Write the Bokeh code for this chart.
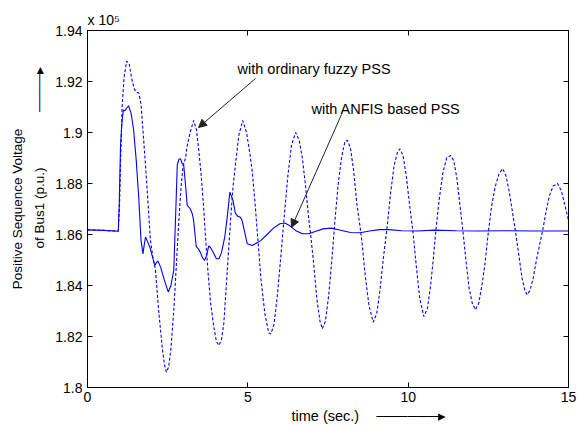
import math
from bokeh.plotting import figure
from bokeh.models import (Range1d, FixedTicker, CustomJSTickFormatter, LinearAxis,
                          Label, Arrow, NormalHead, Title)
from bokeh.embed import file_html
from bokeh.resources import INLINE

# ---- data (values in units of 10^5) ----
time_anfis = [0.0, 0.5, 0.96, 0.99, 1.03, 1.08, 1.12, 1.17, 1.22, 1.28, 1.36, 1.44, 1.52,
              1.6, 1.67, 1.73, 1.77, 1.81, 1.88, 1.96, 2.03, 2.1, 2.15, 2.2, 2.28, 2.4,
              2.52, 2.6, 2.69, 2.75, 2.8, 2.85, 2.9, 2.95, 3.0, 3.06, 3.11, 3.21, 3.27,
              3.31, 3.39, 3.45, 3.52, 3.58, 3.65, 3.72, 3.78, 3.84, 3.92, 4.02, 4.1, 4.18,
              4.28, 4.36, 4.44, 4.54, 4.61, 4.68, 4.77, 4.82, 4.9, 4.98, 5.14, 5.4, 5.6,
              5.8, 6.0, 6.15, 6.3, 6.5, 6.7, 6.9, 7.1, 7.35, 7.6, 7.9, 8.2, 8.5, 8.8,
              9.1, 9.4, 9.8, 10.3, 10.8, 11.5, 12.2, 13.0, 14.0, 15.0]
volt_anfis = [1.8618, 1.8616, 1.8613, 1.872, 1.895, 1.905, 1.9088, 1.9085, 1.9095, 1.9105,
              1.9075, 1.9008, 1.889, 1.874, 1.8576, 1.8524, 1.856, 1.859, 1.857, 1.8544,
              1.851, 1.8478, 1.849, 1.8495, 1.8472, 1.842, 1.8374, 1.840, 1.8459, 1.868,
              1.8873, 1.8895, 1.8897, 1.888, 1.8873, 1.879, 1.8714, 1.870, 1.868, 1.8655,
              1.8553, 1.8545, 1.853, 1.851, 1.8498, 1.852, 1.8555, 1.8548, 1.853, 1.8505,
              1.8505, 1.853, 1.859, 1.867, 1.8766, 1.8733, 1.8684, 1.8672, 1.8668, 1.8655,
              1.861, 1.8564, 1.8557, 1.8576, 1.860, 1.8625, 1.8642, 1.8645, 1.8635,
              1.8615, 1.8603, 1.8603, 1.8612, 1.8622, 1.8625, 1.8617, 1.8608, 1.8607,
              1.8614, 1.8619, 1.8619, 1.8615, 1.8614, 1.8617, 1.8615, 1.8614, 1.8615,
              1.8614, 1.8614]

time_fuzzy = [0.0, 0.5, 0.96, 1.0, 1.03, 1.08, 1.14, 1.22, 1.3, 1.38, 1.46, 1.53, 1.6, 1.67,
              1.74, 1.81, 1.9, 1.96, 2.04, 2.12, 2.22, 2.33, 2.4, 2.46, 2.53, 2.6, 2.69,
              2.77, 2.85, 2.92, 2.98, 3.06, 3.1, 3.2, 3.31, 3.4, 3.47, 3.54, 3.62, 3.68,
              3.76, 3.84, 3.94, 4.02, 4.1, 4.18, 4.25, 4.36, 4.46, 4.54, 4.61, 4.72, 4.84,
              4.96, 5.06, 5.14, 5.22, 5.32, 5.41, 5.53, 5.65, 5.72, 5.82, 5.92, 6.02,
              6.12, 6.24, 6.36, 6.49, 6.6, 6.7, 6.8, 6.9, 6.95, 7.05, 7.15, 7.25, 7.32,
              7.42, 7.52, 7.62, 7.72, 7.82, 7.92, 8.02, 8.1, 8.2, 8.3, 8.4, 8.5, 8.56,
              8.66, 8.78, 8.91, 9.02, 9.12, 9.22, 9.34, 9.45, 9.56, 9.66, 9.74, 9.84,
              9.94, 10.05, 10.15, 10.25, 10.36, 10.49, 10.6, 10.7, 10.78, 10.86, 10.96,
              11.08, 11.2, 11.32, 11.42, 11.52, 11.62, 11.71, 11.8, 11.9, 12.0, 12.1,
              12.2, 12.3, 12.4, 12.5, 12.6, 12.72, 12.84, 12.95, 13.05, 13.15, 13.25,
              13.35, 13.45, 13.55, 13.64, 13.71, 13.8, 13.9, 14.0, 14.1, 14.2, 14.3,
              14.4, 14.52, 14.66, 14.78, 14.88, 15.0]
volt_fuzzy = [1.8618, 1.8616, 1.8613, 1.872, 1.888, 1.910, 1.9215, 1.928, 1.927, 1.921,
              1.917, 1.9158, 1.9155, 1.911, 1.899, 1.887, 1.870, 1.858, 1.851, 1.846,
              1.830, 1.8158, 1.809, 1.806, 1.808, 1.815, 1.830, 1.848, 1.8655, 1.879,
              1.887, 1.890, 1.8942, 1.900, 1.9047, 1.901, 1.893, 1.884, 1.871, 1.859,
              1.845, 1.833, 1.8237, 1.818, 1.8165, 1.819, 1.825, 1.846, 1.8655, 1.879,
              1.887, 1.899, 1.9047, 1.900, 1.892, 1.8845, 1.873, 1.857, 1.8425,
              1.829, 1.8215, 1.821, 1.825, 1.836, 1.850, 1.865, 1.882, 1.895, 1.900,
              1.897, 1.890, 1.879, 1.866, 1.861, 1.849, 1.835, 1.826, 1.823, 1.826,
              1.836, 1.850, 1.866, 1.880, 1.890, 1.896, 1.897, 1.894, 1.885, 1.872,
              1.863, 1.857, 1.844, 1.832, 1.8256, 1.829, 1.838, 1.850, 1.8625, 1.876,
              1.887, 1.892, 1.8936, 1.891, 1.883, 1.871, 1.861, 1.848, 1.835, 1.8278,
              1.831, 1.840, 1.850, 1.861, 1.873, 1.884, 1.890, 1.891, 1.889, 1.882,
              1.871, 1.861, 1.850, 1.839, 1.833, 1.8305, 1.833, 1.840, 1.849, 1.861,
              1.871, 1.879, 1.884, 1.8858, 1.883, 1.877, 1.869, 1.861, 1.852, 1.843,
              1.838, 1.8364, 1.838, 1.843, 1.850, 1.856, 1.862, 1.869, 1.875, 1.879,
              1.880, 1.877, 1.872, 1.8655]

x_ticks = [0, 5, 10, 15]
y_ticks = [1.8, 1.82, 1.84, 1.86, 1.88, 1.9, 1.92, 1.94]

# ---- layout (pixels in the figure) ----
W, H = 579, 426
FL, FT, FR, FB = 87, 30, 568, 387   # frame edges
X0, X1, Y0, Y1 = 0, 15, 1.8, 1.94

def dx(px):
    return X0 + (px - FL) / (FR - FL) * (X1 - X0)

def dy(py):
    return Y1 - (py - FT) / (FB - FT) * (Y1 - Y0)

FONT = "Liberation Sans"
EM, EN, THIN = "\u2003", "\u2002", "\u2009"
SHAFT, HEAD = "\u2500", "\u25b8"

p = figure(width=W, height=H, output_backend="svg", toolbar_location=None,
           x_range=Range1d(X0, X1), y_range=Range1d(Y0, Y1),
           min_border_left=FL, min_border_right=W - FR,
           min_border_top=FT, min_border_bottom=H - FB,
           background_fill_color="white", border_fill_color="white")
p.grid.visible = False
p.outline_line_color = "black"
p.outline_line_width = 1

def style_axis(ax, labels=True):
    ax.axis_line_color = "black"
    ax.major_tick_line_color = "black"
    ax.major_tick_in = 5
    ax.major_tick_out = 0
    ax.minor_tick_line_color = None
    ax.major_label_text_font = FONT
    ax.major_label_text_color = "black"
    if labels:
        ax.major_label_text_font_size = "14px"
        ax.major_label_standoff = 5
    else:
        ax.formatter = CustomJSTickFormatter(code="return '';")
        ax.major_label_text_font_size = "0px"
        ax.major_label_standoff = 0

p.xaxis.ticker = FixedTicker(ticks=x_ticks)
p.yaxis.ticker = FixedTicker(ticks=y_ticks)
p.yaxis.formatter = CustomJSTickFormatter(code="return String(Math.round(tick*100)/100);")
style_axis(p.xaxis[0])
style_axis(p.yaxis[0])
p.xaxis.major_label_standoff = 4

top_ax = LinearAxis(ticker=FixedTicker(ticks=x_ticks))
right_ax = LinearAxis(ticker=FixedTicker(ticks=y_ticks))
style_axis(top_ax, labels=False)
style_axis(right_ax, labels=False)
p.add_layout(top_ax, "above")
p.add_layout(right_ax, "right")

def side_title(txt, place, size, align="center", offset=0, standoff=0):
    p.add_layout(Title(text=txt, align=align, offset=offset, standoff=standoff,
                       text_font=FONT, text_font_size=size, text_font_style="normal",
                       text_color="black"), place)

# y label: second line with arrow (nearer the axis), then first line
side_title("of Bus1 (p.u.)" + EM * 3 + EN + THIN * 3 + SHAFT * 4 + HEAD, "left", "13.5px",
           align="left", offset=FB - 248, standoff=11)
side_title("Positive Sequence Voltage", "left", "13.5px", standoff=0)
# x label with arrow
side_title("time (sec.)" + EM + THIN + SHAFT * 6 + HEAD, "below", "14.5px",
           align="left", offset=291 - FL, standoff=2)
# exponent
side_title("x 10\u2075", "above", "14px", align="left", standoff=5)

p.line(time_fuzzy, volt_fuzzy, line_color="#0000ff", line_width=1.1, line_dash="3 2")
p.line(time_anfis, volt_anfis, line_color="#0000ff", line_width=1.1)

# ---- annotations inside the frame ----
def add_text(txt, px, py, size="14.5px"):
    p.add_layout(Label(x=dx(px), y=dy(py), text=txt, text_font=FONT,
                       text_font_size=size, text_color="black", text_align="left",
                       text_baseline="middle"))

ARROW_C = "#222222"

def add_arrow(x0, y0, x1, y1):
    p.add_layout(Arrow(x_start=dx(x0), y_start=dy(y0), x_end=dx(x1), y_end=dy(y1),
                       line_color=ARROW_C, line_width=1,
                       end=NormalHead(size=8, fill_color=ARROW_C,
                                      line_color=ARROW_C, line_width=1)))

add_text("with ordinary fuzzy PSS", 237, 68)
add_text("with ANFIS based PSS", 311, 108)
add_arrow(255, 78, 198, 127)
add_arrow(341, 114, 291, 227)

open("out.html", "w").write(file_html(p, INLINE))
